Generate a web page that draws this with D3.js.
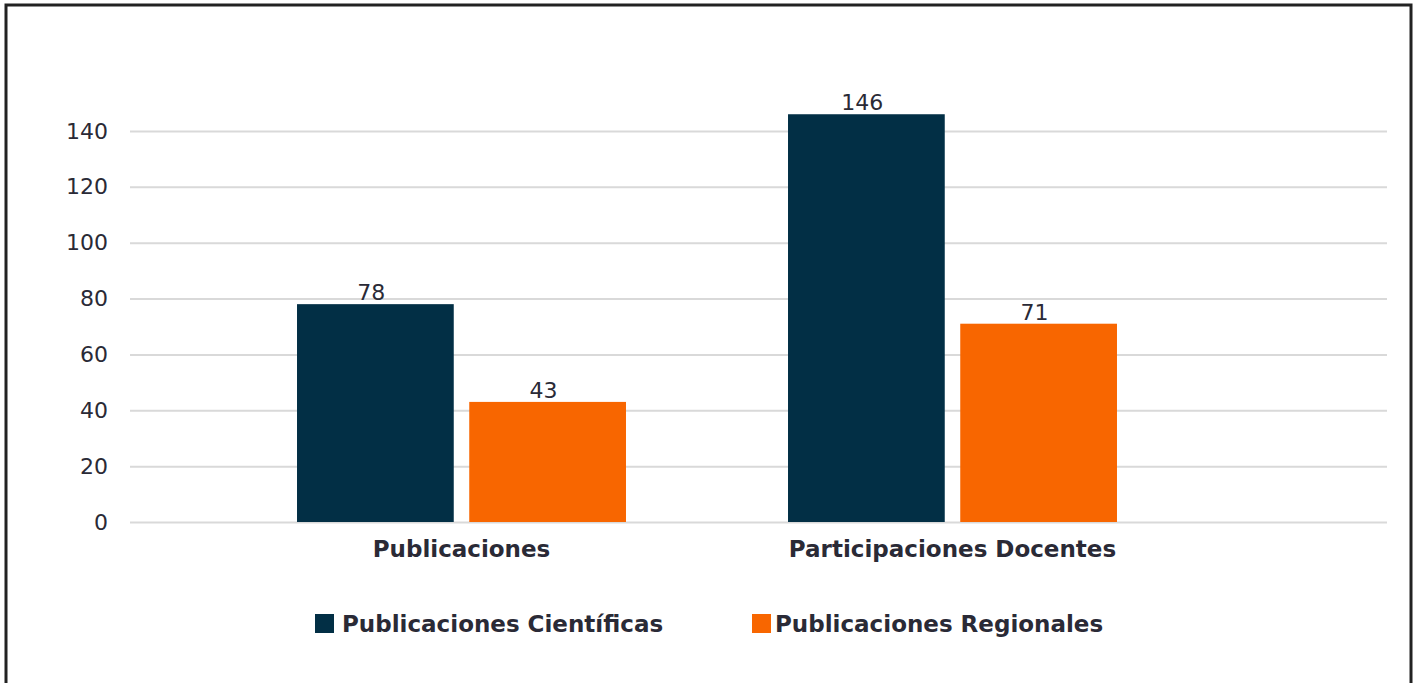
<!DOCTYPE html>
<html>
<head>
<meta charset="utf-8">
<script src="https://cdn.jsdelivr.net/npm/d3@7"></script>
<style>
  html, body { margin: 0; padding: 0; background: #fff; }
  svg { display: block; font-family: "DejaVu Sans", sans-serif; }
</style>
</head>
<body>
<svg width="1420" height="683"></svg>
<script>
const categories = ["Publicaciones", "Participaciones Docentes"];
const seriesNames = ["Publicaciones Científicas", "Publicaciones Regionales"];
const cientificas = [78, 146];
const regionales = [43, 71];
const yTicks = [0, 20, 40, 60, 80, 100, 120, 140];

const colors = ["#022f45", "#f86600"];
const textColor = "#2a2a36";
const font = "DejaVu Sans, sans-serif";

const svg = d3.select("svg");

// frame
svg.append("rect")
  .attr("x", 6).attr("y", 5)
  .attr("width", 1405).attr("height", 690)
  .attr("fill", "none")
  .attr("stroke", "#222")
  .attr("stroke-width", 3);

const rows = categories.map((c, i) => ({
  cat: c,
  vals: [cientificas[i], regionales[i]]
}));

const y = d3.scaleLinear().domain([0, 140]).range([522, 131]);
const x0 = d3.scaleBand().domain(categories).range([216, 1198])
  .paddingInner(0.33).paddingOuter(0.165);
const x1 = d3.scaleBand().domain([0, 1]).range([0, x0.bandwidth()]).paddingInner(0.09);

// grid + y labels
const yAxis = svg.append("g")
  .attr("transform", "translate(130,0)")
  .call(d3.axisLeft(y).tickValues(yTicks).tickSize(-1257).tickPadding(22));
yAxis.select(".domain").remove();
yAxis.selectAll(".tick line").attr("stroke", "#d9d9d9").attr("stroke-width", 2);
yAxis.selectAll(".tick text")
  .attr("fill", textColor)
  .attr("font-size", 22)
  .attr("font-family", font);

// bars
const groups = svg.append("g").selectAll("g")
  .data(rows).join("g")
  .attr("transform", d => `translate(${x0(d.cat)},0)`);

groups.selectAll("rect")
  .data(d => d.vals.map((v, i) => ({ v, i })))
  .join("rect")
  .attr("x", d => x1(d.i))
  .attr("width", x1.bandwidth())
  .attr("y", d => y(d.v))
  .attr("height", d => y(0) - y(d.v))
  .attr("fill", d => colors[d.i]);

groups.selectAll("text.val")
  .data(d => d.vals.map((v, i) => ({ v, i })))
  .join("text")
  .attr("class", "val")
  .attr("x", d => x1(d.i) + x1.bandwidth() / 2 - 4)
  .attr("y", d => y(d.v) - 4)
  .attr("text-anchor", "middle")
  .attr("font-size", 22)
  .attr("fill", textColor)
  .text(d => d.v);

// category labels
svg.append("g").selectAll("text")
  .data(categories).join("text")
  .attr("x", d => x0(d) + x0.bandwidth() / 2)
  .attr("y", 557)
  .attr("text-anchor", "middle")
  .attr("font-size", 23)
  .attr("font-weight", "bold")
  .attr("fill", textColor)
  .text(d => d);

// legend
const legendX = [315, 752];
const legend = svg.append("g").selectAll("g")
  .data(seriesNames).join("g")
  .attr("transform", (d, i) => `translate(${legendX[i]},614)`);
legend.append("rect")
  .attr("width", 19).attr("height", 19)
  .attr("fill", (d, i) => colors[i]);
legend.append("text")
  .attr("x", (d, i) => i === 0 ? 27 : 23)
  .attr("y", 18)
  .attr("font-size", 23)
  .attr("font-weight", "bold")
  .attr("fill", textColor)
  .text(d => d);
</script>
</body>
</html>
